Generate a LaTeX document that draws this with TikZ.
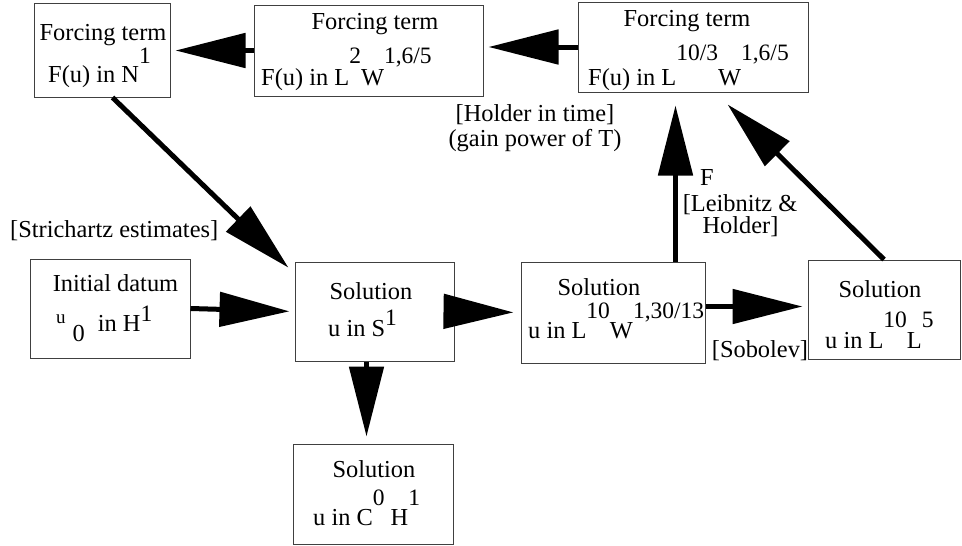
\documentclass[tikz,border=0pt]{standalone}
\usepackage{fontspec}
\setmainfont{Liberation Serif}
\usetikzlibrary{arrows.meta,calc}
\newcommand{\upr}[2]{\raisebox{#1pt}{\fontsize{23.5}{24}\selectfont #2}}
\begin{document}
\begin{tikzpicture}[x=1pt,y=-1pt,
  box/.style={draw=black!75,line width=1pt,inner sep=0pt},
  txt/.style={inner sep=0pt,font=\fontsize{24.4}{26}\selectfont},
  conn/.style={line width=5pt,-{Triangle[length=70pt,width=34pt]}}]
\useasboundingbox (0,0) rectangle (962,546);
\fill[white] (0,0) rectangle (962,546);
% boxes
\node[box,minimum width=136pt,minimum height=94pt] (b1) at (102,50) {};
\node[box,minimum width=229pt,minimum height=91pt] (b2) at (368.5,50.5) {};
\node[box,minimum width=230pt,minimum height=90pt] (b3) at (693,47) {};
\node[box,minimum width=160pt,minimum height=99pt] (b4) at (110,308.5) {};
\node[box,minimum width=159pt,minimum height=99pt] (b5) at (374.5,311.5) {};
\node[box,minimum width=184pt,minimum height=101pt] (b6) at (613,312.5) {};
\node[box,minimum width=152pt,minimum height=99pt] (b7) at (884,309.5) {};
\node[box,minimum width=160pt,minimum height=100pt] (b8) at (373,494) {};
% box texts
\node[txt,anchor=base] (t1a) at (103,40) {Forcing term};
\node[txt,anchor=base west] (t1b) at (48,82) {F(u) in N\upr{19}{1}};
\node[txt,anchor=base] (t2a) at (375,29) {Forcing term};
\node[txt,anchor=base west] (t2b) at (261,85) {F(u) in L\upr{22}{2}W\upr{22}{1,6/5}};
\node[txt,anchor=base] (t3a) at (687,27) {Forcing term};
\node[txt,anchor=base west] (t3b) at (588,85) {F(u) in L\upr{25}{10/3}W\upr{25}{1,6/5}};
\node[txt,anchor=base] (t4a) at (115.5,291) {Initial datum};
\node[txt,anchor=base west] (t4b) at (56,331) {\raisebox{8pt}{\fontsize{19}{19}\selectfont u}\hspace{7pt}\raisebox{-10pt}{0}\hspace{13pt}in H\upr{10}{1}};
\node[txt,anchor=base] (t5a) at (371,299) {Solution};
\node[txt,anchor=base west] (t5b) at (328,336) {u in S\upr{11}{1}};
\node[txt,anchor=base] (t6a) at (599,295) {Solution};
\node[txt,anchor=base west] (t6b) at (528,338) {u in L\upr{20}{10}W\upr{20}{1,30/13}};
\node[txt,anchor=base] (t7a) at (880,297) {Solution};
\node[txt,anchor=base west] (t7b) at (825,348) {u in L\upr{21}{10}L\upr{21}{5}};
\node[txt,anchor=base] (t8a) at (374,477) {Solution};
\node[txt,anchor=base west] (t8b) at (313,525) {u in C\upr{20}{0} H\upr{20}{1}};
% labels
\node[txt,anchor=base west] (lstr) at (10,237) {[Strichartz estimates]};
\node[txt,anchor=base] (lh1) at (535,121) {[Holder in time]};
\node[txt,anchor=base] (lh2) at (535,146) {(gain power of T)};
\node[txt,anchor=base west] (lf) at (700,185) {F};
\node[txt,anchor=base] (ll1) at (740,211) {[Leibnitz \&};
\node[txt,anchor=base] (ll2) at (740.5,233) {Holder]};
\node[txt,anchor=base] (lsob) at (760,357) {[Sobolev]};
% connectors
\coordinate (s15) at ($(b1.south west)+(79,0)$);
\coordinate (e15) at ($(b5.north west)+(0,12)$);
\coordinate (s67) at ($(b6.east)+(0,-6)$);
\coordinate (s58) at ($(b5.south west)+(72,0)$);
\coordinate (s63) at ($(b6.north west)+(155,0)$);
\coordinate (e73) at ($(b3.south west)+(138,0)$);
\draw[conn,shorten >=5pt] (b2.west) -- (b2.west -| b1.east);
\draw[conn,shorten >=5pt] (b3.west) -- (b3.west -| b2.east);
\draw[conn,shorten >=8.4pt] (s15) -- (e15);
\draw[conn,shorten >=5pt] (b4.east) -- (b5.west);
\draw[conn,shorten >=7pt] (b5.east) -- (b6.west);
\draw[conn,shorten >=5pt] (s67) -- (s67 -| b7.west);
\draw[conn,shorten >=7pt] (s58) -- (s58 |- b8.north);
\draw[conn,shorten >=13pt] (s63) -- (s63 |- b3.south);
\draw[conn,shorten >=17pt] (b7.north) -- (e73);
\end{tikzpicture}
\end{document}
